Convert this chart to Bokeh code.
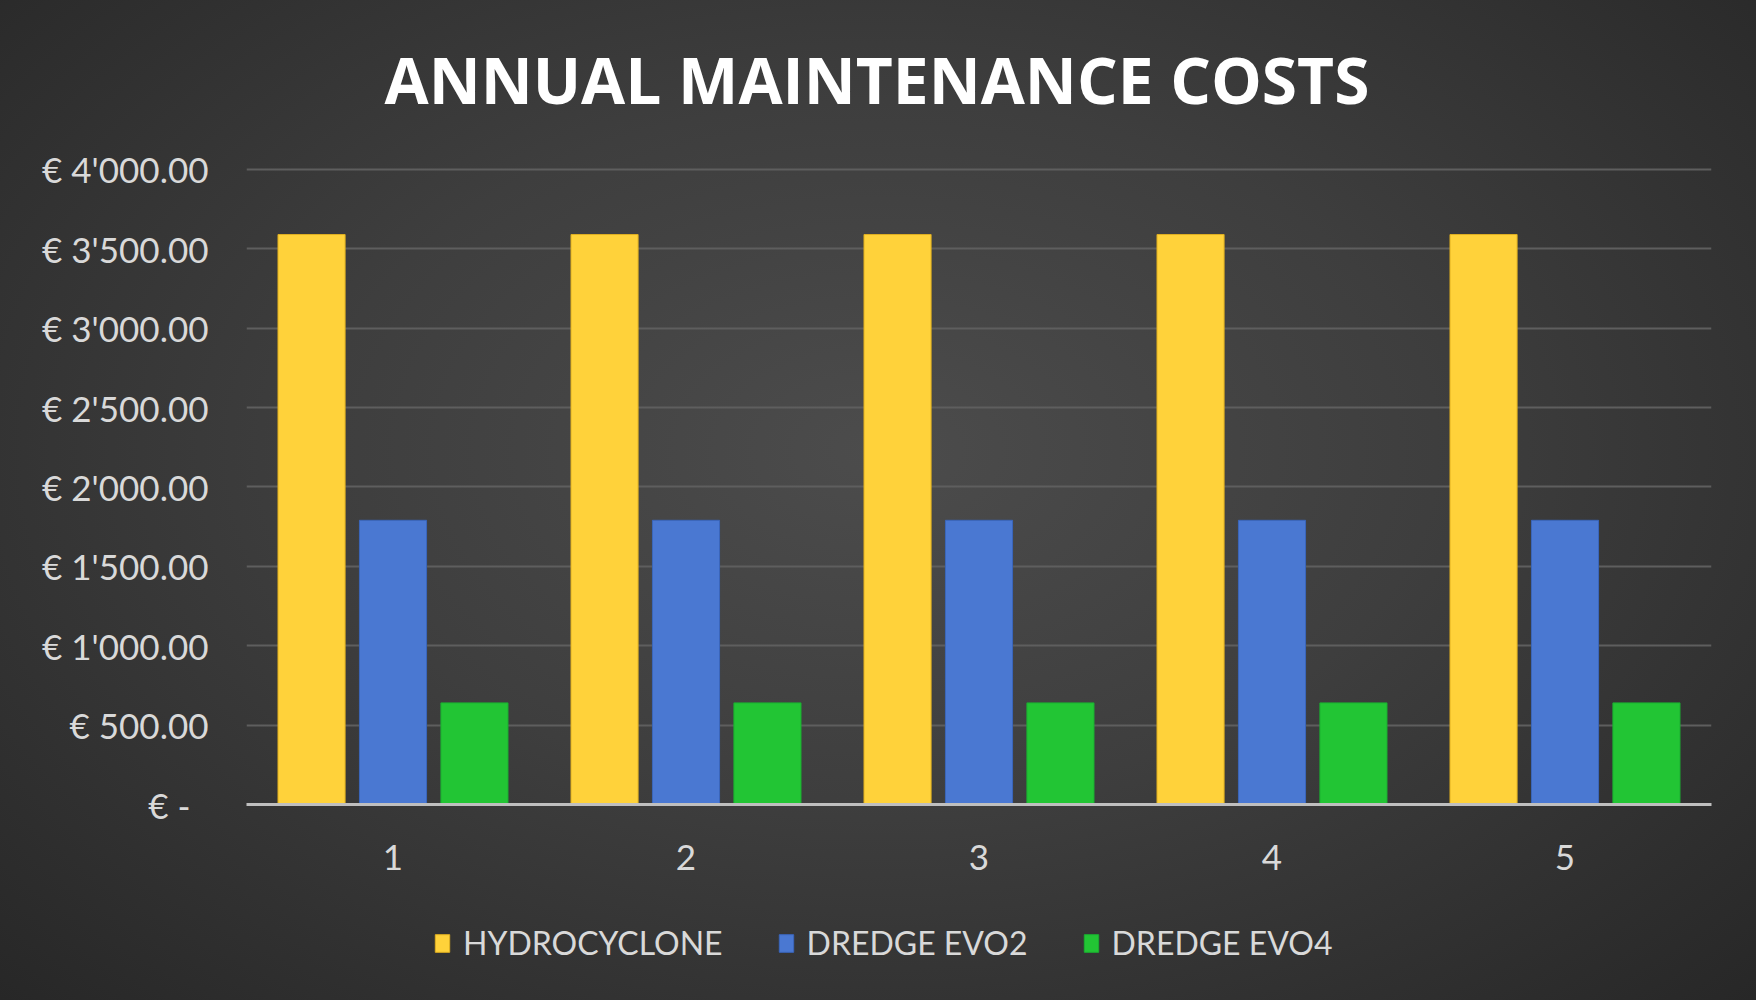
from bokeh.plotting import figure
from bokeh.layouts import column
from bokeh.models import (ColumnDataSource, FactorRange, FixedTicker, Legend,
                          LegendItem, Range1d)
from bokeh.transform import dodge
from bokeh.embed import file_html
from bokeh.resources import INLINE

# ---- data ----
years = ["1", "2", "3", "4", "5"]
hydrocyclone = [3590, 3590, 3590, 3590, 3590]
dredge_evo2 = [1790, 1790, 1790, 1790, 1790]
dredge_evo4 = [640, 640, 640, 640, 640]
series_names = ["HYDROCYCLONE", "DREDGE EVO2", "DREDGE EVO4"]
series_colors = ["#FFD23A", "#4A78D2", "#22C534"]
series_edges = ["#E0B020", "#3A66BC", "#1AAE30"]
y_ticks = [0, 500, 1000, 1500, 2000, 2500, 3000, 3500, 4000]
y_tick_labels = ["€ -\u00a0\u00a0", "€ 500.00", "€ 1'000.00", "€ 1'500.00",
                 "€ 2'000.00", "€ 2'500.00", "€ 3'000.00", "€ 3'500.00", "€ 4'000.00"]
title_text = "ANNUAL MAINTENANCE COSTS"

source = ColumnDataSource(dict(year=years, hyd=hydrocyclone,
                               evo2=dredge_evo2, evo4=dredge_evo4))
cols = ["hyd", "evo2", "evo4"]

TXT = "#d9d9d9"
FONT = "Lato"
W = 0.229
OFF = 0.278
offsets = [-OFF, 0.0, OFF]


def strip(height, top, bottom):
    f = figure(width=1740, height=height, x_range=FactorRange(*years, range_padding=0),
               y_range=Range1d(0, 1), output_backend="svg", toolbar_location=None,
               min_border_left=246, min_border_right=29, min_border_top=top,
               min_border_bottom=bottom, background_fill_alpha=0,
               border_fill_alpha=0, outline_line_color=None)
    f.axis.visible = False
    f.grid.grid_line_color = None
    return f


# ---- title strip ----
tf = strip(137, 127, 0)
tf.title.text = title_text
tf.title.align = "left"
tf.title.offset = 138
tf.title.text_color = "white"
tf.title.text_font = "Open Sans"
tf.title.text_font_style = "bold"
tf.title.text_font_size = "64px"
tf.title.standoff = 10

# ---- main chart ----
p = figure(width=1740, height=763, x_range=FactorRange(*years, range_padding=0),
           y_range=Range1d(0, 4050), output_backend="svg", toolbar_location=None,
           min_border_left=246, min_border_right=29, min_border_top=24,
           min_border_bottom=96, background_fill_alpha=0, border_fill_alpha=0,
           outline_line_color=None)

for c, o, fc, lc in zip(cols, offsets, series_colors, series_edges):
    p.vbar(x=dodge("year", o, range=p.x_range), top=c, width=W, source=source,
           fill_color=fc, line_color=lc, line_width=1)

p.yaxis.ticker = FixedTicker(ticks=y_ticks)
p.yaxis.major_label_overrides = {t: l for t, l in zip(y_ticks, y_tick_labels)}
p.yaxis.axis_line_color = None
p.yaxis.major_tick_line_color = None
p.yaxis.minor_tick_line_color = None
p.yaxis.major_label_text_color = TXT
p.yaxis.major_label_text_font = FONT
p.yaxis.major_label_text_font_size = "35px"
p.yaxis.major_label_standoff = 32

p.xaxis.axis_line_color = "#bfbfbf"
p.xaxis.axis_line_width = 3
p.xaxis.major_tick_line_color = None
p.xaxis.minor_tick_line_color = None
p.xaxis.major_label_text_color = TXT
p.xaxis.major_label_text_font = FONT
p.xaxis.major_label_text_font_size = "35px"
p.xaxis.major_label_standoff = 34

p.xgrid.grid_line_color = None
p.ygrid.grid_line_color = "#5e5e5e"
p.ygrid.grid_line_width = 2

# ---- legend strip ----
lg = strip(84, 0, 0)
items = []
for name, c, o, fc, lc in zip(series_names, cols, offsets, series_colors, series_edges):
    r = lg.vbar(x=dodge("year", o, range=lg.x_range), top=c, width=W, source=source,
                fill_color=fc, line_color=lc, visible=False)
    items.append(LegendItem(label=name, renderers=[r]))
legend = Legend(items=items, orientation="horizontal", location=(187, 22),
                background_fill_alpha=0, border_line_color=None,
                inactive_fill_alpha=0,
                label_text_color=TXT, label_text_font=FONT,
                label_text_font_size="32px", glyph_width=18, glyph_height=22,
                label_standoff=12, spacing=54, padding=0, margin=0)
lg.add_layout(legend, "center")

layout = column(tf, p, lg, spacing=0)

html = file_html(layout, INLINE)
css = ("<style>html,body{margin:0;padding:0;background:#333333;"
       "background:radial-gradient(ellipse farthest-corner at 50% 45%,"
       " #4c4c4c 0%, #3e3e3e 45%, #272727 100%);min-height:100vh;}</style>")
html = html.replace("<head>", "<head>" + css, 1)
open("out.html", "w").write(html)
